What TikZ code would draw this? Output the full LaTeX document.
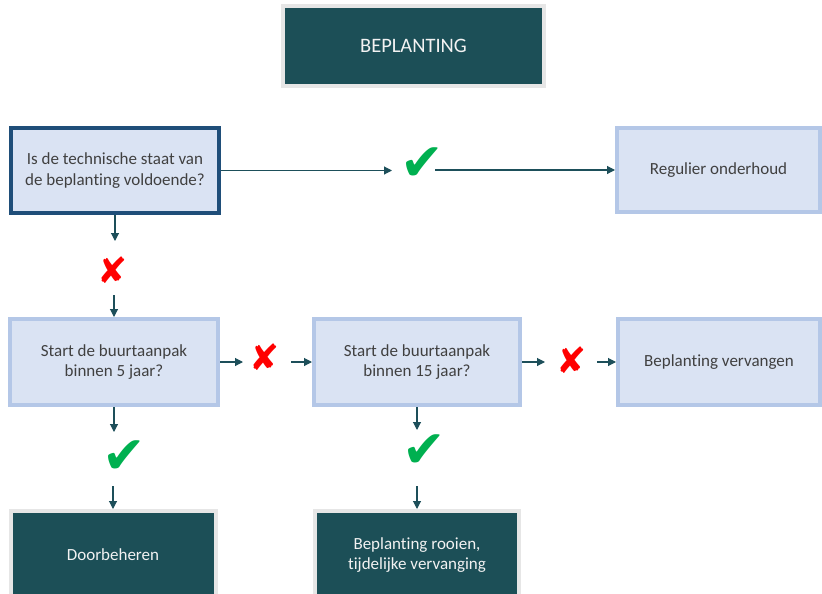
\documentclass[tikz,border=0pt]{standalone}
\usepackage{fontspec}
\setmainfont[Ligatures=NoCommon]{Carlito}
\newfontfamily\symfont{DejaVu Sans}
\usetikzlibrary{arrows.meta}
\definecolor{lightfill}{HTML}{DAE3F3}
\definecolor{lightborder}{HTML}{B4C7E7}
\definecolor{darkborder}{HTML}{1F4E79}
\definecolor{darkfill}{HTML}{1C4F57}
\definecolor{grayborder}{HTML}{E6E6E6}
\definecolor{arrowcol}{HTML}{1D4F5A}
\definecolor{textgray}{HTML}{404040}
\definecolor{checkgreen}{HTML}{00B050}
\definecolor{crossred}{HTML}{FF0000}
\begin{document}
\begin{tikzpicture}[x=1pt,y=-1pt,
  base/.style={rectangle,align=center,font=\fontsize{17}{20.5}\selectfont,inner sep=0pt},
  lightbox/.style={base,fill=lightfill,draw=lightborder,line width=4pt,text=textgray},
  qbox/.style={base,fill=lightfill,draw=darkborder,line width=4pt,text=textgray},
  darkbox/.style={base,fill=darkfill,draw=grayborder,line width=4pt,text=white!95!black},
  arr/.style={draw=arrowcol,line width=1.1pt,-{Triangle[length=8pt,width=8pt]}},
  checkmark/.style={inner sep=0pt,text=checkgreen,font=\symfont\fontsize{52}{52}\selectfont},
  crossmark/.style={inner sep=0pt,text=crossred,font=\symfont\fontsize{36}{36}\selectfont}]
\useasboundingbox (0,0) rectangle (822,594);
\begin{scope}
\clip (0,0) rectangle (822,594);
\node[darkbox,minimum width=261pt,minimum height=80pt,font=\fontsize{20.5}{24}\selectfont] (title) at (413.5,46) {BEPLANTING};
\node[qbox,minimum width=208pt,minimum height=85pt] (q1) at (115,170.5) {Is de technische staat van\\de beplanting voldoende?};
\node[lightbox,minimum width=203pt,minimum height=84pt] (reg) at (718.5,170) {Regulier onderhoud};
\node[lightbox,minimum width=208pt,minimum height=86pt] (q2) at (114,362) {Start de buurtaanpak\\binnen 5 jaar?};
\node[lightbox,minimum width=206pt,minimum height=86pt] (q3) at (417,362) {Start de buurtaanpak\\binnen 15 jaar?};
\node[lightbox,minimum width=202pt,minimum height=86pt] (rep) at (719,362) {Beplanting vervangen};
\node[darkbox,minimum width=205pt,minimum height=88pt] (door) at (113,555) {Doorbeheren};
\node[darkbox,minimum width=204pt,minimum height=88pt] (rooi) at (417,555) {Beplanting rooien,\\tijdelijke vervanging};
\end{scope}
% marks
\node[checkmark] (c1) at (422,164) {✔};
\node[crossmark] (x1) at (113,270) {✘};
\node[crossmark] (x2) at (265,357) {✘};
\node[crossmark] (x3) at (572,360) {✘};
\node[checkmark] (c2) at (124,457) {✔};
\node[checkmark] (c3) at (424,451) {✔};
% connectors
\draw[arr] (q1.east) -- ++(171,0);
\draw[arr] ([xshift=-180pt]reg.west) -- (reg.west);
\draw[arr] (q1.south) -- ++(0,26);
\draw[arr] ([yshift=22pt]q2.north) -- (q2.north);
\draw[arr] (q2.east) -- ++(23,0);
\draw[arr] ([xshift=-21pt]q3.west) -- (q3.west);
\draw[arr] (q3.east) -- ++(23,0);
\draw[arr] ([xshift=-19pt]rep.west) -- (rep.west);
\draw[arr] (q2.south) -- ++(0,25);
\draw[arr] ([yshift=23pt]door.north) -- (door.north);
\draw[arr] (q3.south) -- ++(0,23);
\draw[arr] ([yshift=23pt]rooi.north) -- (rooi.north);
\end{tikzpicture}
\end{document}
